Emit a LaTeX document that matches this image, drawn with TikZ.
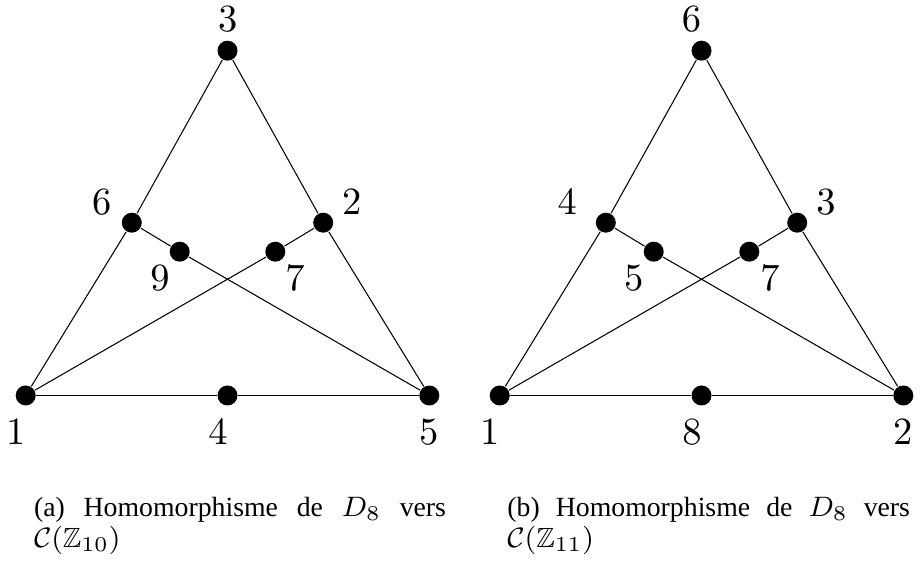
\documentclass[tikz,border=0pt]{standalone}
\usepackage{amsmath,amssymb}
\usepackage[no-math]{fontspec}
\newfontfamily\capfont{Liberation Serif}

\begin{document}
\begin{tikzpicture}[
  vertex/.style={circle, fill=black, inner sep=0pt, minimum size=2mm},
  lbl/.style={inner sep=0pt, font=\fontsize{10.8}{13}\selectfont},
  edge/.style={black, line width=0.3pt},
  subcap/.style={inner sep=0pt, anchor=base west, align=justify,
    font=\capfont\fontsize{7.9}{8.65}\selectfont}]

% Page frame (922 x 561 px, 100 px = 1 cm)
\useasboundingbox (0,0) rectangle (9.22,5.61);

% ---------- (a) ----------
% Vertices
\node[vertex] (a1) at (0.257,1.655) {};
\node[vertex] (a4) at (2.275,1.655) {};
\node[vertex] (a5) at (4.293,1.655) {};
\node[vertex] (a3) at (2.275,5.103) {};
\node[vertex] (a6) at (1.318,3.383) {};
\node[vertex] (a2) at (3.232,3.383) {};
\node[vertex] (a9) at (1.797,3.093) {};
\node[vertex] (a7) at (2.753,3.093) {};

% Edges
\draw[edge] (a1) -- (a6) -- (a3) -- (a2) -- (a5);
\draw[edge] (a1) -- (a4) -- (a5);
\draw[edge] (a6) -- (a9) -- (a5);
\draw[edge] (a2) -- (a7) -- (a1);

% Labels
\node[lbl] (la3) at (2.277,5.415) {$3$};
\node[lbl] (la6) at (1.017,3.593) {$6$};
\node[lbl] (la2) at (3.517,3.593) {$2$};
\node[lbl] (la9) at (1.600,2.825) {$9$};
\node[lbl] (la7) at (2.950,2.825) {$7$};
\node[lbl] (la1) at (0.157,1.293) {$1$};
\node[lbl] (la4) at (2.180,1.293) {$4$};
\node[lbl] (la5) at (4.287,1.293) {$5$};

% Caption
\node[subcap, text width=4.12cm] (capa) at (0.333,0.443)
  {(a) Homomorphisme de $D_8$ vers $\mathcal{C}(\mathbb{Z}_{10})$};

% ---------- (b) ----------
\begin{scope}[xshift=4.74cm]
% Vertices
\node[vertex] (b1) at (0.257,1.655) {};
\node[vertex] (b8) at (2.275,1.655) {};
\node[vertex] (b2) at (4.293,1.655) {};
\node[vertex] (b6) at (2.275,5.103) {};
\node[vertex] (b4) at (1.318,3.383) {};
\node[vertex] (b3) at (3.232,3.383) {};
\node[vertex] (b5) at (1.797,3.093) {};
\node[vertex] (b7) at (2.753,3.093) {};

% Edges
\draw[edge] (b1) -- (b4) -- (b6) -- (b3) -- (b2);
\draw[edge] (b1) -- (b8) -- (b2);
\draw[edge] (b4) -- (b5) -- (b2);
\draw[edge] (b3) -- (b7) -- (b1);

% Labels
\node[lbl] (lb6) at (2.175,5.415) {$6$};
\node[lbl] (lb4) at (0.932,3.593) {$4$};
\node[lbl] (lb3) at (3.520,3.593) {$3$};
\node[lbl] (lb5) at (1.597,2.825) {$5$};
\node[lbl] (lb7) at (2.960,2.825) {$7$};
\node[lbl] (lb1) at (0.158,1.293) {$1$};
\node[lbl] (lb8) at (2.180,1.293) {$8$};
\node[lbl] (lb2) at (4.287,1.293) {$2$};

% Caption
\node[subcap, text width=4.026cm] (capb) at (0.327,0.443)
  {(b) Homomorphisme de $D_8$ vers $\mathcal{C}(\mathbb{Z}_{11})$};
\end{scope}

\end{tikzpicture}
\end{document}
